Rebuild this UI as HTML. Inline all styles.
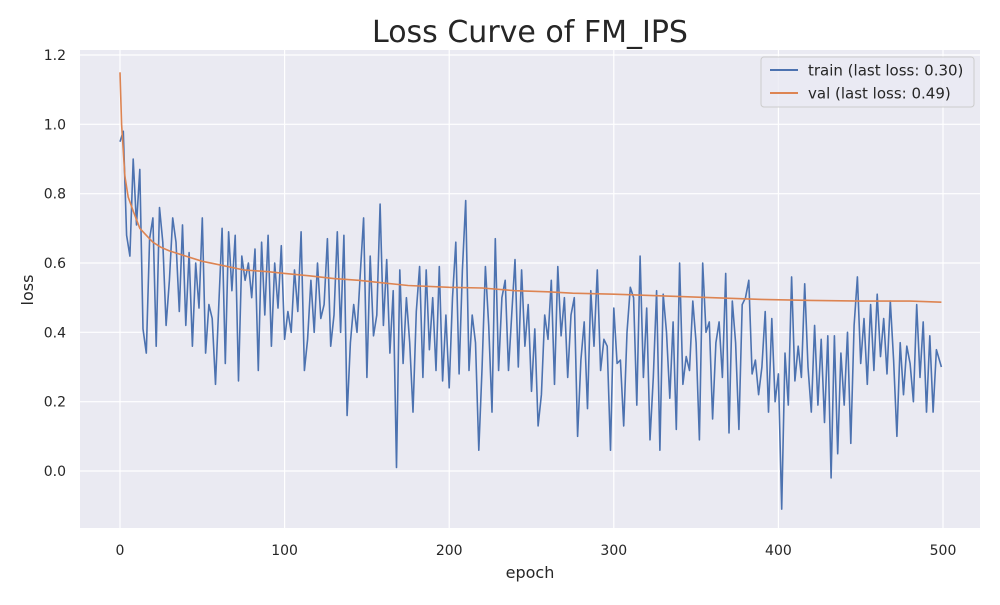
<!DOCTYPE html>
<html><head><meta charset="utf-8"><style>
body{margin:0;background:#fff;font-family:"Liberation Sans","DejaVu Sans",sans-serif;}
svg text{font-family:"DejaVu Sans","Liberation Sans",sans-serif;fill:#262626;}
</style></head><body>
<svg id="chart" width="1000" height="600">
<rect x="80" y="50" width="900" height="478" fill="#eaeaf2"/>
<g id="grid"></g><g id="series"></g><g id="ticks"></g>
<text x="530" y="42" text-anchor="middle" font-size="30">Loss Curve of FM_IPS</text>
<text x="530" y="578" text-anchor="middle" font-size="16">epoch</text>
<text x="33" y="290" text-anchor="middle" font-size="16" transform="rotate(-90 33 290)">loss</text>
<g>
<rect x="761" y="57" width="213" height="50" rx="3" fill="#eaeaf2" fill-opacity="0.8" stroke="#cccccc"/>
<line x1="770" y1="70" x2="798" y2="70" stroke="#4c72b0" stroke-width="2"/>
<text x="808" y="75.5" font-size="15">train (last loss: 0.30)</text>
<line x1="770" y1="93" x2="798" y2="93" stroke="#dd8452" stroke-width="2"/>
<text x="808" y="98.5" font-size="15">val (last loss: 0.49)</text>
</g>
</svg>
<script>
const xTicks=[0,100,200,300,400,500];
const yTicks=[0.0,0.2,0.4,0.6,0.8,1.0,1.2];
const trainLoss=[0.95,0.98,0.68,0.62,0.90,0.71,0.87,0.41,0.34,0.67,
0.73,0.36,0.76,0.66,0.42,0.55,0.73,0.66,0.46,0.71,
0.42,0.63,0.36,0.60,0.47,0.73,0.34,0.48,0.44,0.25,
0.48,0.70,0.31,0.69,0.52,0.68,0.26,0.62,0.55,0.60,
0.50,0.64,0.29,0.66,0.45,0.68,0.36,0.60,0.47,0.65,
0.38,0.46,0.40,0.58,0.46,0.69,0.29,0.38,0.55,0.40,
0.60,0.44,0.48,0.67,0.36,0.45,0.69,0.40,0.68,0.16,
0.37,0.48,0.40,0.57,0.73,0.27,0.62,0.39,0.45,0.77,
0.42,0.61,0.34,0.52,0.01,0.58,0.31,0.50,0.37,0.17,
0.46,0.59,0.27,0.58,0.35,0.50,0.29,0.59,0.26,0.45,
0.24,0.50,0.66,0.28,0.58,0.78,0.29,0.45,0.37,0.06,
0.30,0.59,0.42,0.17,0.67,0.29,0.50,0.55,0.29,0.45,
0.61,0.30,0.58,0.36,0.48,0.23,0.41,0.13,0.22,0.45,
0.38,0.55,0.25,0.59,0.39,0.50,0.27,0.45,0.50,0.10,
0.32,0.43,0.18,0.52,0.36,0.58,0.29,0.38,0.36,0.06,
0.47,0.31,0.32,0.13,0.40,0.53,0.50,0.19,0.62,0.27,
0.47,0.09,0.27,0.52,0.06,0.51,0.40,0.21,0.43,0.12,
0.60,0.25,0.33,0.29,0.49,0.37,0.09,0.60,0.40,0.43,
0.15,0.37,0.43,0.27,0.57,0.11,0.49,0.37,0.12,0.48,
0.50,0.55,0.28,0.32,0.22,0.30,0.46,0.17,0.44,0.20,
0.28,-0.11,0.34,0.19,0.56,0.26,0.36,0.27,0.54,0.30,
0.17,0.42,0.19,0.38,0.14,0.39,-0.02,0.39,0.05,0.34,
0.19,0.40,0.08,0.42,0.56,0.31,0.44,0.25,0.48,0.29,
0.51,0.33,0.44,0.28,0.49,0.32,0.10,0.37,0.22,0.36,
0.31,0.20,0.48,0.27,0.43,0.17,0.39,0.17,0.35,0.30];
const valEpochs=[0,1,3,5,8,12,16,20,25,30,40,50,60,75,90,100,115,130,145,155,175,200,220,240,260,275,300,330,360,390,420,450,480,499];
const valLoss=[1.15,1.0,0.85,0.79,0.75,0.70,0.68,0.66,0.645,0.635,0.62,0.605,0.595,0.58,0.575,0.57,0.563,0.555,0.55,0.545,0.535,0.53,0.528,0.52,0.517,0.513,0.51,0.505,0.50,0.495,0.492,0.49,0.49,0.487];
const NS="http://www.w3.org/2000/svg";
const X=e=>120+e*(943-120)/500;
const Y=v=>471-v*(471-55)/1.2;
const grid=document.getElementById('grid'),ticks=document.getElementById('ticks'),ser=document.getElementById('series');
function mk(tag,attrs,parent){const el=document.createElementNS(NS,tag);for(const k in attrs)el.setAttribute(k,attrs[k]);parent.appendChild(el);return el;}
xTicks.forEach(t=>{
 const l=mk('line',{x1:X(t),x2:X(t),y1:50,y2:528,stroke:'#fff','stroke-width':1.2},grid);
 
 
 const tx=mk('text',{x:X(t),y:555,'text-anchor':'middle','font-size':14},ticks);tx.textContent=t;
 
 
});
yTicks.forEach(t=>{
 const l=mk('line',{x1:80,x2:980,y1:Y(t),y2:Y(t),stroke:'#fff','stroke-width':1.2},grid);
 
 
 const tx=mk('text',{x:66,y:Y(t)+5,'text-anchor':'end','font-size':14},ticks);tx.textContent=t.toFixed(1);
 
 
});
const tp=trainLoss.map((v,i)=>X(i===trainLoss.length-1?499:i*2).toFixed(1)+','+Y(v).toFixed(1)).join(' ');
const p1=mk('polyline',{points:tp,fill:'none',stroke:'#4c72b0','stroke-width':1.6,'stroke-linejoin':'round'},ser);


const vp=valLoss.map((v,i)=>X(valEpochs[i]).toFixed(1)+','+Y(v).toFixed(1)).join(' ');
const p2=mk('polyline',{points:vp,fill:'none',stroke:'#dd8452','stroke-width':1.6,'stroke-linejoin':'round'},ser);


</script>
</body></html>
